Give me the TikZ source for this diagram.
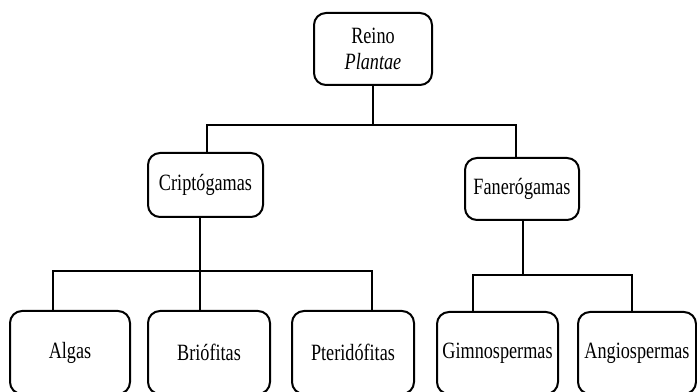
\documentclass[tikz,border=0pt]{standalone}
\usepackage{fontspec}
\setmainfont{Liberation Serif}[FakeStretch=0.78]
\usepackage{tikz}
\usetikzlibrary{calc,positioning}

\tikzset{
  caja/.style={draw,line width=1.5pt,rounded corners=9pt,align=center,inner sep=2pt,
    font=\fontsize{17.5}{20}\selectfont},
  linea/.style={line width=1.1pt}
}

\begin{document}
\begin{tikzpicture}[x=0.75pt,y=-0.75pt]
            \useasboundingbox (0,0) rectangle (697,392);
            \clip (0,0) rectangle (697,392);
            \node[caja,minimum width=88.5pt,minimum height=54pt] (reino) at (373,49) {Reino\\\textit{Plantae}};
            \node[caja,minimum width=86.25pt,minimum height=48pt] (cript) at (205.5,185) {Criptógamas};
            \node[caja,minimum width=85.5pt,minimum height=46.5pt] (fane) at (522,189) {Fanerógamas};
            \node[caja,minimum width=90pt,minimum height=62.25pt] (algas) at (70,352.5) {Algas};
            \node[caja,minimum width=91.5pt,minimum height=62.25pt] (brio) at (209,352.5) {Briófitas};
            \node[caja,minimum width=91.5pt,minimum height=62.25pt] (pteri) at (353,352.5) {Pteridófitas};
            \node[caja,minimum width=90.75pt,minimum height=61.5pt] (gimno) at (497.5,353) {Gimnospermas};
            \node[caja,minimum width=88.5pt,minimum height=61.5pt] (angio) at (637,353) {Angiospermas};
            \coordinate (barraA) at (207,125);
            \coordinate (barraB) at (516,125);
            \coordinate (barraC) at (53,271);
            \coordinate (barraD) at (372,271);
            \coordinate (barraE) at (473,275);
            \coordinate (barraF) at (632,275);
            \coordinate (baseC) at (200,271);
            \coordinate (baseF) at (523,275);
            \draw[linea] (reino.south) -- (reino.south |- barraA);
            \draw[linea] (cript.north -| barraA) -- (barraA) -- (barraB) -- (fane.north -| barraB);
            \draw[linea] (cript.south -| baseC) -- (brio.north -| baseC);
            \draw[linea] (algas.north -| barraC) -- (barraC) -- (barraD) -- (pteri.north -| barraD);
            \draw[linea] (fane.south -| baseF) -- (baseF);
            \draw[linea] (gimno.north -| barraE) -- (barraE) -- (barraF) -- (angio.north -| barraF);
        \end{tikzpicture}
\end{document}
